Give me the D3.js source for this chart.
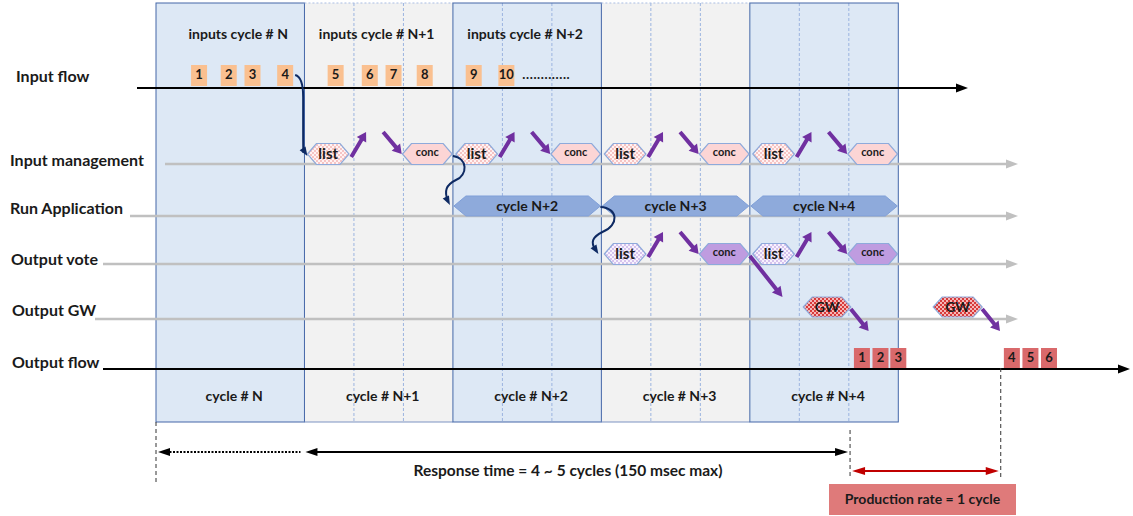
<!DOCTYPE html>
<html>
<head>
<meta charset="utf-8">
<script src="https://cdn.jsdelivr.net/npm/d3@7"></script>
<style>
  body { margin: 0; background: #fff; }
  text { font-family: Lato, "Open Sans", sans-serif; font-weight: bold; fill: #1a1a1a; }
</style>
</head>
<body>
<svg id="chart" width="1133" height="516"></svg>
<script>
// ---- data (times are in cycle units, cycle N starts at 0) ----
const cycles = ['cycle # N', 'cycle # N+1', 'cycle # N+2', 'cycle # N+3', 'cycle # N+4'];
const inputHeaders = ['inputs cycle # N', 'inputs cycle # N+1', 'inputs cycle # N+2'];
const lanes = ['Input flow', 'Input management', 'Run Application', 'Output vote', 'Output GW', 'Output flow'];
const inputItems = [1, 2, 3, 4, 5, 6, 7, 8, 9, 10];
const inputTimes = [0.29, 0.49, 0.65, 0.87, 1.21, 1.44, 1.60, 1.81, 2.14, 2.36];
const mgmtCycles = [1, 2, 3, 4];
const runCycles = [2, 3, 4];
const runLabels = ['cycle N+2', 'cycle N+3', 'cycle N+4'];
const voteCycles = [3, 4];
const steps = ['list', 'conc'];
const stepStart = [0.02, 0.66];
const stepEnd = [0.30, 0.995];
const gwStart = [4.36, 5.235];
const gwEnd = [4.68, 5.565];
const outputItems = [1, 2, 3, 4, 5, 6];
const outputTimes = [4.755, 4.88, 5.0, 5.765, 5.89, 6.015];
const responseMarks = [0, 1, 4.675];   // start, end of dotted part, end
const rateMarks = [4.675, 5.69];
const responseText = 'Response time = 4 ~ 5 cycles (150 msec max)';
const rateText = 'Production rate = 1 cycle';

// ---- layout ----
const svg = d3.select('#chart');
const x = d3.scaleLinear().domain([0, 5]).range([156, 898.3]);
const y = d3.scaleOrdinal().domain(lanes).range([88, 164, 216, 264, 319, 369]);
const laneLabelX = [16, 10, 10, 11, 12, 12];
const laneLabelDy = [-10, -2, -6, -3, -7, -5];
const laneLineX0 = [137, 165, 130, 103, 95, 103];
const laneLineX1 = [968, 1018, 1018, 1018, 1018, 1130];
const yTop = 3, yBottom = 422;

const PURPLE = '#7030a0', NAVY = '#0e2a63', GREY = '#c0c0c0';

// patterns for hexagon fills
const defs = svg.append('defs');
function checker(id, bg, fg, s) {
  const p = defs.append('pattern').attr('id', id).attr('patternUnits', 'userSpaceOnUse')
    .attr('width', s * 2).attr('height', s * 2);
  p.append('rect').attr('width', s * 2).attr('height', s * 2).attr('fill', bg);
  p.append('rect').attr('width', s).attr('height', s).attr('fill', fg);
  p.append('rect').attr('x', s).attr('y', s).attr('width', s).attr('height', s).attr('fill', fg);
}
checker('pinkDots', '#fff3f3', '#f6c4c4', 2);
checker('lavDots', '#f8f3fd', '#d6c3ee', 2);
checker('redCheck', '#f4b8b8', '#d83a3a', 2);

// arrow as a filled polygon (shaft + head)
function arrow(g, x1, y1, x2, y2, w, hl, hw, color) {
  const dx = x2 - x1, dy = y2 - y1, len = Math.hypot(dx, dy);
  const ux = dx / len, uy = dy / len, nx = -uy, ny = ux;
  const bx = x2 - ux * hl, by = y2 - uy * hl;
  const pts = [
    [x1 + nx * w / 2, y1 + ny * w / 2], [bx + nx * w / 2, by + ny * w / 2],
    [bx + nx * hw / 2, by + ny * hw / 2], [x2, y2],
    [bx - nx * hw / 2, by - ny * hw / 2], [bx - nx * w / 2, by - ny * w / 2],
    [x1 - nx * w / 2, y1 - ny * w / 2]
  ];
  g.append('polygon').attr('points', pts.map(p => p.join(',')).join(' ')).attr('fill', color);
}
function head(g, x2, y2, ang, hl, hw, color) {
  const ux = Math.cos(ang), uy = Math.sin(ang), nx = -uy, ny = ux;
  const bx = x2 - ux * hl, by = y2 - uy * hl;
  g.append('polygon').attr('fill', color).attr('points',
    [[x2, y2], [bx + nx * hw / 2, by + ny * hw / 2], [bx - nx * hw / 2, by - ny * hw / 2]]
      .map(p => p.join(',')).join(' '));
}
function hex(x0, x1, cy, h, d) {
  return `M${x0},${cy} L${x0 + d},${cy - h / 2} L${x1 - d},${cy - h / 2} L${x1},${cy} L${x1 - d},${cy + h / 2} L${x0 + d},${cy + h / 2} Z`;
}

// ---- cycle columns ----
const cols = svg.append('g');
cycles.forEach((c, i) => {
  cols.append('rect').attr('x', x(i)).attr('y', yTop).attr('width', x(i + 1) - x(i)).attr('height', yBottom - yTop)
    .attr('fill', i % 2 === 0 ? '#dde8f5' : '#f2f2f2');
  if (i > 0) {
    [1 / 3, 2 / 3].forEach(f => {
      cols.append('line').attr('x1', x(i + f)).attr('x2', x(i + f)).attr('y1', yTop).attr('y2', yBottom)
        .attr('stroke', '#9bb4e0').attr('stroke-width', 1).attr('stroke-dasharray', '3,2');
    });
  }
});
cycles.forEach((c, i) => {
  if (i % 2 === 0) {
    cols.append('rect').attr('x', x(i)).attr('y', yTop).attr('width', x(i + 1) - x(i)).attr('height', yBottom - yTop)
      .attr('fill', 'none').attr('stroke', '#4467a8').attr('stroke-width', 1);
  } else {
    cols.append('line').attr('x1', x(i)).attr('x2', x(i + 1)).attr('y1', yTop).attr('y2', yTop)
      .attr('stroke', '#a9bde3').attr('stroke-dasharray', '2,2');
    cols.append('line').attr('x1', x(i)).attr('x2', x(i + 1)).attr('y1', yBottom).attr('y2', yBottom)
      .attr('stroke', '#7d93c2');
  }
  cols.append('text').attr('x', (x(i) + x(i + 1)) / 2 + 4).attr('y', 397).attr('text-anchor', 'middle')
    .attr('dominant-baseline', 'middle').attr('font-size', 14).text(c);
});
inputHeaders.forEach((h, i) => {
  cols.append('text').attr('x', (x(i) + x(i + 1)) / 2 + (i === 0 ? 8 : -2)).attr('y', 35)
    .attr('text-anchor', 'middle').attr('dominant-baseline', 'middle').attr('font-size', 14).text(h);
});

// ---- lanes ----
const laneG = svg.append('g');
lanes.forEach((l, i) => {
  const ly = y(l);
  const black = i === 0 || i === lanes.length - 1;
  const col = black ? '#000' : GREY;
  laneG.append('line').attr('x1', laneLineX0[i]).attr('x2', laneLineX1[i] - 10).attr('y1', ly).attr('y2', ly)
    .attr('stroke', col).attr('stroke-width', black ? 2 : 2.5);
  head(laneG, laneLineX1[i], ly, 0, 12, 9, col);
  laneG.append('text').attr('x', laneLabelX[i]).attr('y', ly + laneLabelDy[i]).attr('dominant-baseline', 'middle')
    .attr('font-size', 16).text(l);
});

// ---- input flow squares ----
const inG = svg.append('g');
inputItems.forEach((n, i) => {
  const cx = x(inputTimes[i]), yb = y('Input flow') - 2;
  inG.append('rect').attr('x', cx - 8).attr('y', yb - 21).attr('width', 16).attr('height', 21).attr('fill', '#fac090');
  inG.append('text').attr('x', cx).attr('y', yb - 10).attr('text-anchor', 'middle').attr('dominant-baseline', 'middle')
    .attr('font-size', 13).text(n);
});
inG.append('text').attr('x', x(inputTimes[9]) + 16).attr('y', 76).attr('dominant-baseline', 'middle')
  .attr('font-size', 13).attr('letter-spacing', 0.6).text('.............');

// ---- processing steps (list -> conc) ----
const procG = svg.append('g');
function stepsRow(cyc, lane, fills) {
  const cy = y(lane) - 10;
  cyc.forEach(k => {
    steps.forEach((s, j) => {
      procG.append('path').attr('d', hex(x(k + stepStart[j]), x(k + stepEnd[j]), cy, 21, 9))
        .attr('fill', fills[j]).attr('stroke', '#8eaadb').attr('stroke-width', 1.2);
      procG.append('text').attr('x', (x(k + stepStart[j]) + x(k + stepEnd[j])) / 2).attr('y', cy + (j ? -1 : 1))
        .attr('text-anchor', 'middle').attr('dominant-baseline', 'middle')
        .attr('font-size', j ? 11 : 15).attr('font-weight', j ? 'bold' : 'normal').text(s);
    });
    arrow(procG, x(k + 0.315), cy + 3, x(k + 0.415), cy - 22, 4, 9, 11, PURPLE);
    arrow(procG, x(k + 0.53), cy - 22, x(k + 0.655), cy + 0, 4, 9, 11, PURPLE);
  });
}
stepsRow(mgmtCycles, 'Input management', ['url(#pinkDots)', '#fcd5d5']);
stepsRow(voteCycles, 'Output vote', ['url(#lavDots)', '#bf9ce0']);

// ---- run application bars ----
runCycles.forEach((k, i) => {
  const cy = y('Run Application') - 10;
  procG.append('path').attr('d', hex(x(k) + 1, x(k + 1) - 1, cy, 20, 12))
    .attr('fill', '#8eaadb').attr('stroke', '#7f9fd8').attr('stroke-width', 1);
  procG.append('text').attr('x', (x(k) + x(k + 1)) / 2).attr('y', cy + 1).attr('text-anchor', 'middle')
    .attr('dominant-baseline', 'middle').attr('font-size', 14).text(runLabels[i]);
});

// ---- output gateway ----
gwStart.forEach((s, i) => {
  const cy = y('Output GW') - 12;
  procG.append('path').attr('d', hex(x(s), x(gwEnd[i]), cy, 20, 9))
    .attr('fill', 'url(#redCheck)').attr('stroke', '#8eaadb').attr('stroke-width', 1.2);
  procG.append('text').attr('x', (x(s) + x(gwEnd[i])) / 2).attr('y', cy + 1).attr('text-anchor', 'middle')
    .attr('dominant-baseline', 'middle').attr('font-size', 14).attr('font-weight', 'normal').text('GW');
  arrow(procG, x(gwEnd[i]), cy + 2, x(gwEnd[i] + 0.12), cy + 24, 4, 9, 11, PURPLE);
});
// vote -> GW
arrow(procG, x(voteCycles[0] + 1), y('Output vote') - 8, x(voteCycles[0] + 1.22), y('Output vote') + 33, 4, 10, 11, PURPLE);

// ---- output flow squares ----
outputItems.forEach((n, i) => {
  const cx = x(outputTimes[i]), yb = y('Output flow') - 1;
  procG.append('rect').attr('x', cx - 8).attr('y', yb - 20).attr('width', 16).attr('height', 20).attr('fill', '#d9696b');
  procG.append('text').attr('x', cx).attr('y', yb - 9).attr('text-anchor', 'middle').attr('dominant-baseline', 'middle')
    .attr('font-size', 13).text(n);
});

// ---- navy hand-off curves ----
const curveG = svg.append('g').attr('fill', 'none');
function curve(d, ex, ey, ang) {
  curveG.append('path').attr('d', d).attr('stroke', NAVY).attr('stroke-width', 2).attr('fill', 'none');
  head(curveG, ex, ey, ang, 9, 7, NAVY);
}
{
  const sx = x(inputTimes[3]) + 10, sy = 75, ex = x(mgmtCycles[0] + stepStart[0]), ey = y('Input management') - 8;
  curve(`M${sx},${sy} Q${sx + 8},${sy + 2} ${sx + 8},${sy + 22} L${sx + 8},${ey - 24} Q${sx + 8},${ey - 8} ${ex - 4},${ey - 3}`, ex, ey, 1.0);
}
{
  const sx = x(mgmtCycles[0] + 1), sy = y('Input management') - 8, ex = x(runCycles[0]) - 3, ey = y('Run Application') - 11;
  curve(`M${sx},${sy} C${sx + 15},${sy + 2} ${sx + 15},${sy + 19} ${sx + 3},${sy + 24} C${sx - 7},${sy + 29} ${sx - 9},${ey - 14} ${ex - 2},${ey - 4}`, ex, ey, 1.1);
}
{
  const sx = x(runCycles[1]) - 1, sy = y('Run Application') - 9, ex = x(voteCycles[0]) - 3, ey = y('Output vote') - 10;
  curve(`M${sx},${sy} C${sx + 18},${sy + 1} ${sx + 19},${sy + 18} ${sx + 2},${sy + 25} C${sx - 8},${sy + 30} ${sx - 10},${ey - 12} ${ex - 3},${ey - 4}`, ex, ey, 1.0);
}

// ---- response time / production rate ----
const annG = svg.append('g');
[[responseMarks[0], 422, 482], [responseMarks[2], 430, 477], [rateMarks[1], 368, 477]].forEach(([t, y1, y2]) => {
  annG.append('line').attr('x1', x(t)).attr('x2', x(t)).attr('y1', y1).attr('y2', y2)
    .attr('stroke', '#333').attr('stroke-width', 1).attr('stroke-dasharray', '4,3');
});
const ry = 452;
annG.append('line').attr('x1', x(responseMarks[0]) + 10).attr('x2', x(responseMarks[1]) - 4).attr('y1', ry).attr('y2', ry)
  .attr('stroke', '#000').attr('stroke-width', 2).attr('stroke-dasharray', '2,1.5');
head(annG, x(responseMarks[0]) + 2, ry, Math.PI, 12, 8, '#000');
annG.append('line').attr('x1', x(responseMarks[1]) + 8).attr('x2', x(responseMarks[2]) - 12).attr('y1', ry).attr('y2', ry)
  .attr('stroke', '#000').attr('stroke-width', 2);
head(annG, x(responseMarks[1]) + 1, ry, Math.PI, 12, 8, '#000');
head(annG, x(responseMarks[2]) - 2, ry, 0, 13, 8, '#000');
annG.append('text').attr('x', 568).attr('y', 472).attr('text-anchor', 'middle').attr('dominant-baseline', 'middle')
  .attr('font-size', 15.5).text(responseText);

const py = 471;
annG.append('line').attr('x1', x(rateMarks[0]) + 12).attr('x2', x(rateMarks[1]) - 12).attr('y1', py).attr('y2', py)
  .attr('stroke', '#c00000').attr('stroke-width', 2);
head(annG, x(rateMarks[0]) + 2, py, Math.PI, 13, 8, '#c00000');
head(annG, x(rateMarks[1]) - 2, py, 0, 13, 8, '#c00000');
const bx0 = 829, bx1 = 1016;
annG.append('rect').attr('x', bx0).attr('y', 484).attr('width', bx1 - bx0).attr('height', 31).attr('fill', '#df7a7a');
annG.append('text').attr('x', (bx0 + bx1) / 2).attr('y', 500).attr('text-anchor', 'middle').attr('dominant-baseline', 'middle')
  .attr('font-size', 14).text(rateText);
</script>
</body>
</html>
